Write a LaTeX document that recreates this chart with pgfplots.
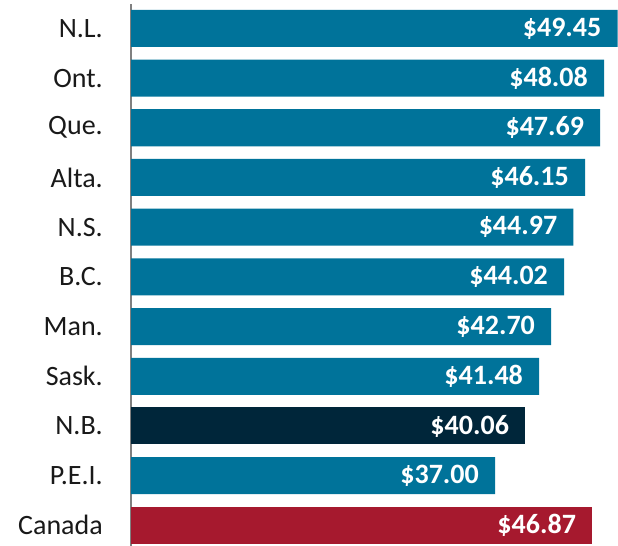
\documentclass[border=0pt]{standalone}
\usepackage{pgfplots}
\pgfplotsset{compat=1.18}
\usepackage{fontspec}
\setmainfont{Carlito}
\definecolor{barteal}{HTML}{00739A}
\definecolor{barnavy}{HTML}{00263A}
\definecolor{barred}{HTML}{A6192E}
\begin{document}
\begin{tikzpicture}
\begin{axis}[
  x=9.838pt, y=49.7pt,
  xmin=0, xmax=49.5, ymin=-0.41, ymax=10.49,
  xbar, bar width=37pt,
  axis x line=none,
  axis y line*=left,
  axis line style={draw=black!50, line width=1.5pt},
  ytick={0,...,10},
  yticklabels={Canada,P.E.I.,N.B.,Sask.,Man.,B.C.,N.S.,Alta.,Que.,Ont.,N.L.},
  major tick length=0pt,
  yticklabel style={font=\fontsize{28}{30}\selectfont, anchor=east, inner sep=0pt, xshift=-28pt, text=black!90},
  point meta=x,
  nodes near coords={\$\pgfmathprintnumber[fixed,zerofill,precision=2]{\pgfplotspointmeta}},
  nodes near coords style={anchor=east, inner sep=0pt, xshift=-16pt, font=\fontsize{28}{30}\selectfont\bfseries, text=white},
  /pgf/number format/assume math mode=true,
  clip=false,
]
\addplot[fill=barteal, draw=none, bar shift=0pt] coordinates {(37.00,1) (41.48,3) (42.70,4) (44.02,5) (44.97,6) (46.15,7) (47.69,8) (48.08,9) (49.45,10)};
\addplot[fill=barnavy, draw=none, bar shift=0pt] coordinates {(40.06,2)};
\addplot[fill=barred, draw=none, bar shift=0pt] coordinates {(46.87,0)};
\end{axis}
\pgfresetboundingbox
\path[use as bounding box] ([xshift=-131pt]current axis.south west) rectangle ([yshift=4pt]current axis.north east);
\end{tikzpicture}
\end{document}
